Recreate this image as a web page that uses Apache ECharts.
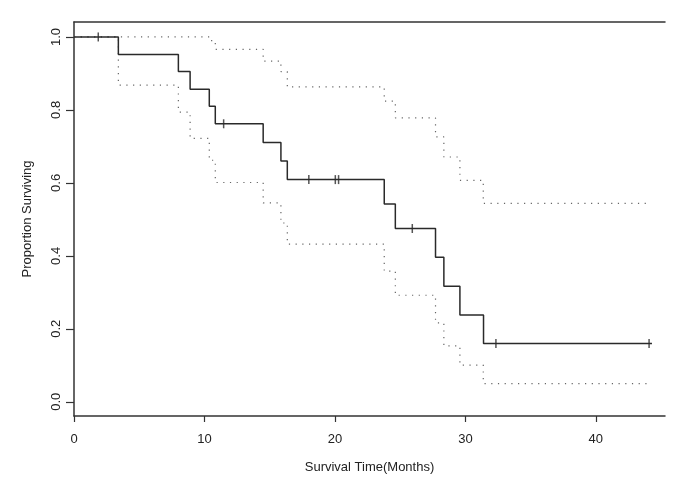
<!DOCTYPE html>
<html>
<head>
<meta charset="utf-8">
<script src="https://cdn.jsdelivr.net/npm/echarts@6/dist/echarts.min.js"></script>
<style>
html,body{margin:0;padding:0;background:#fff;}
#chart{width:685px;height:489px;}
</style>
</head>
<body>
<div id="chart"></div>
<script>
// Kaplan-Meier estimate (step values hold from each time until the next)
var kmTimes = [0, 3.4, 8.0, 8.9, 10.37, 10.83, 14.5, 15.86, 16.35, 23.78, 24.63, 27.71, 28.35, 29.58, 31.39, 44.3];
var kmSurv  = [1.0, 0.952, 0.905, 0.857, 0.810, 0.762, 0.711, 0.660, 0.609, 0.542, 0.475, 0.396, 0.317, 0.238, 0.160, 0.160];

// Upper confidence band
var upperTimes = [0, 10.37, 10.83, 14.5, 15.86, 16.35, 23.78, 24.63, 27.71, 28.35, 29.58, 31.37, 44.0];
var upperSurv  = [1.0, 0.99, 0.966, 0.934, 0.905, 0.863, 0.824, 0.778, 0.726, 0.671, 0.607, 0.544, 0.544];

// Lower confidence band
var lowerTimes = [0, 3.4, 8.0, 8.9, 10.37, 10.83, 14.5, 15.86, 16.35, 23.78, 24.63, 27.71, 28.35, 29.58, 31.37, 44.0];
var lowerSurv  = [1.0, 0.868, 0.794, 0.722, 0.662, 0.601, 0.545, 0.49, 0.432, 0.358, 0.292, 0.216, 0.153, 0.1005, 0.050, 0.050];

// Censored observations
var censorTimes = [1.86, 11.47, 18.0, 20.03, 20.28, 25.93, 32.34, 44.08];
var censorSurv  = [1.0, 0.762, 0.609, 0.609, 0.609, 0.475, 0.160, 0.160];

// Axis ticks
var xTicks = [0, 10, 20, 30, 40];
var yTicks = [0, 0.2, 0.4, 0.6, 0.8, 1.0];

function pairs(xs, ys) { return xs.map(function (x, i) { return [x, ys[i]]; }); }

var FONT = 'Liberation Sans, Arial, sans-serif';
var AX = '#333';

var chart = echarts.init(document.getElementById('chart'), null, {renderer: 'canvas'});
chart.setOption({
  animation: false,
  backgroundColor: '#fff',
  grid: {left: 74, right: 20, top: 22, bottom: 73, containLabel: false},
  xAxis: [{
    type: 'value', min: 0, max: 45.3, position: 'bottom',
    name: 'Survival Time(Months)', nameLocation: 'middle', nameGap: 45,
    nameTextStyle: {fontFamily: FONT, fontSize: 13, color: '#222'},
    axisLine: {show: true, onZero: false, lineStyle: {color: AX, width: 1.5}},
    axisTick: {show: true, length: 6, customValues: xTicks, lineStyle: {color: AX, width: 1.2}},
    axisLabel: {customValues: xTicks, margin: 17, fontFamily: FONT, fontSize: 13, color: '#222'},
    splitLine: {show: false}
  }, {
    type: 'value', min: 0, max: 45.3, position: 'top',
    axisLine: {show: true, onZero: false, lineStyle: {color: AX, width: 1.5}},
    axisTick: {show: false}, axisLabel: {show: false}, splitLine: {show: false}
  }],
  yAxis: {
    type: 'value', min: -0.039, max: 1.041,
    name: 'Proportion Surviving', nameLocation: 'middle', nameGap: 40, nameRotate: 90,
    nameTextStyle: {fontFamily: FONT, fontSize: 13, color: '#222'},
    axisLine: {show: true, onZero: false, lineStyle: {color: AX, width: 1.5}},
    axisTick: {show: true, length: 8, customValues: yTicks, lineStyle: {color: AX, width: 1.2}},
    axisLabel: {customValues: yTicks, rotate: 90, margin: 11, fontFamily: FONT, fontSize: 13, color: '#222',
      formatter: function (v) { return v.toFixed(1); }},
    splitLine: {show: false}
  },
  series: [{
    type: 'line', step: 'end', data: pairs(upperTimes, upperSurv), symbol: 'none',
    lineStyle: {color: '#666', width: 1.2, type: [1.2, 5.5]}
  }, {
    type: 'line', step: 'end', data: pairs(lowerTimes, lowerSurv), symbol: 'none',
    lineStyle: {color: '#666', width: 1.2, type: [1.2, 5.5]}
  }, {
    type: 'line', step: 'end', data: pairs(kmTimes, kmSurv), symbol: 'none',
    lineStyle: {color: '#2a2a2a', width: 1.5}
  }, {
    type: 'scatter', data: pairs(censorTimes, censorSurv), symbol: 'rect', symbolSize: [1.5, 9],
    itemStyle: {color: '#2a2a2a'}
  }]
});
</script>
</body>
</html>
